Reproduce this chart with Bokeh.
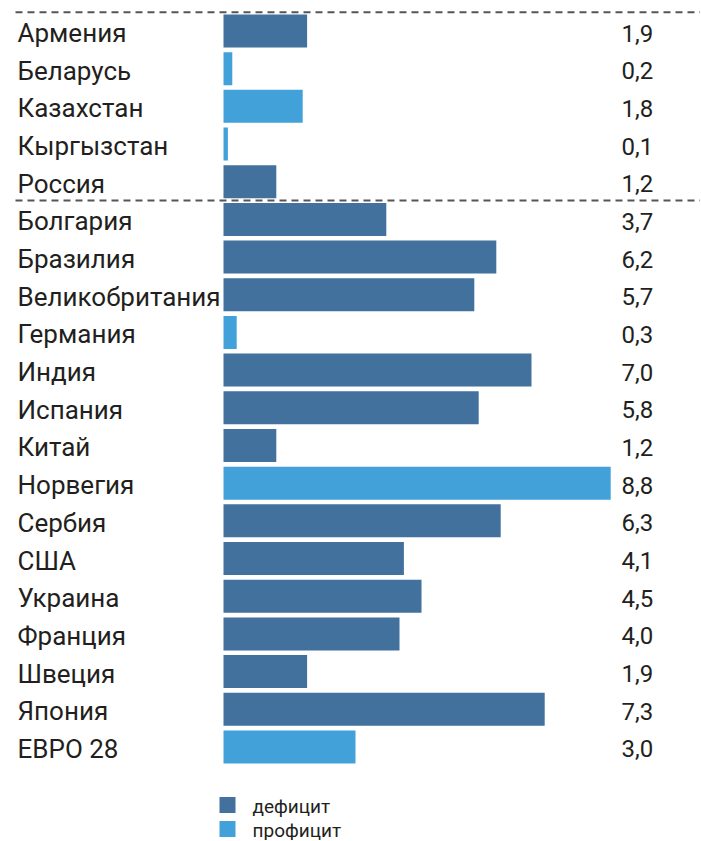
from bokeh.plotting import figure
from bokeh.models import ColumnDataSource
from bokeh.transform import factor_cmap
from bokeh.core.properties import value
from bokeh.embed import file_html
from bokeh.resources import INLINE

countries = ["Армения", "Беларусь", "Казахстан", "Кыргызстан", "Россия",
             "Болгария", "Бразилия", "Великобритания", "Германия", "Индия",
             "Испания", "Китай", "Норвегия", "Сербия", "США", "Украина",
             "Франция", "Швеция", "Япония", "ЕВРО 28"]
values = [1.9, 0.2, 1.8, 0.1, 1.2,
          3.7, 6.2, 5.7, 0.3, 7.0,
          5.8, 1.2, 8.8, 6.3, 4.1, 4.5,
          4.0, 1.9, 7.3, 3.0]
balance = ["дефицит", "профицит", "профицит", "профицит", "дефицит",
           "дефицит", "дефицит", "дефицит", "профицит", "дефицит",
           "дефицит", "дефицит", "профицит", "дефицит", "дефицит", "дефицит",
           "дефицит", "дефицит", "дефицит", "профицит"]
legend_labels = ["дефицит", "профицит"]
colors = ["#41719c", "#43a1d9"]
group_breaks = [-0.5, 4.5]

W, H = 700, 840
PX = 44.0          # pixels per unit
X0 = 223           # screen x of zero
ROW = 37.68        # pixels per row
Y0 = 30.5          # screen y of first row centre

x_start = -X0 / PX
x_end = (W - X0) / PX
y_top = -Y0 / ROW
y_bottom = (H - Y0) / ROW

def sx(px):
    return (px - X0) / PX

def sy(py):
    return (py - Y0) / ROW

src = ColumnDataSource(dict(
    y=list(range(len(countries))),
    country=countries,
    val=values,
    vlabel=[f"{v:.1f}".replace(".", ",") for v in values],
    kind=balance,
))

p = figure(width=W, height=H, output_backend="svg", toolbar_location=None,
           x_range=(x_start, x_end), y_range=(y_bottom, y_top),
           x_axis_location=None, y_axis_location=None, min_border=0)
p.grid.visible = False
p.outline_line_color = None
p.background_fill_color = "white"

p.hbar(y="y", left=0, right="val", height=0.876, source=src,
       fill_color=factor_cmap("kind", colors, legend_labels), line_color=None)

font = value("Roboto")
p.text(x=sx(17), y="y", text="country", source=src, text_font=font,
       text_font_size="26px", text_color="#231f20", text_baseline="middle",
       text_align="left", y_offset=2)
p.text(x=sx(621), y="y", text="vlabel", source=src, text_font=font,
       text_font_size="24px", text_color="#231f20", text_baseline="middle",
       text_align="left", y_offset=2)

p.segment(x0=sx(15), x1=x_end, y0=group_breaks, y1=group_breaks,
          line_color="#555555", line_width=2, line_dash="7 5")

# legend
leg = ColumnDataSource(dict(
    x=[sx(227), sx(227)],
    y=[sy(804.5), sy(828.5)],
    tx=[sx(252), sx(252)],
    label=legend_labels,
    color=colors,
))
p.rect(x="x", y="y", width=16, height=16, width_units="screen",
       height_units="screen", fill_color="color", line_color=None, source=leg)
p.text(x="tx", y="y", text="label", source=leg, text_font=font,
       text_font_size="19px", text_color="#231f20", text_baseline="middle",
       text_align="left", y_offset=1)

open("out.html", "w").write(file_html(p, INLINE))
